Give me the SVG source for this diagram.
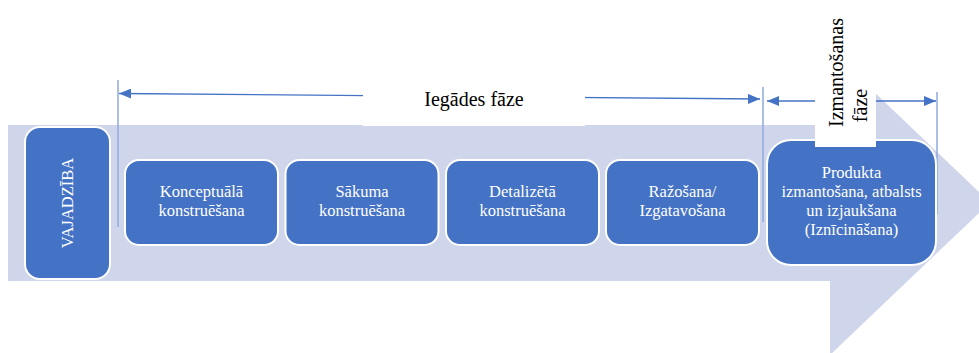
<svg xmlns="http://www.w3.org/2000/svg" width="979" height="353" viewBox="0 0 979 353">
<defs>
<style>
.node rect{fill:#4472C4;stroke:#FFFFFF;stroke-width:2}
.nt{font-family:"Liberation Serif","Times New Roman","DejaVu Serif",serif;font-size:16.5px;fill:#FFFFFF;text-anchor:middle}
.lt{font-family:"Liberation Serif","Times New Roman","DejaVu Serif",serif;font-size:20px;fill:#000000;text-anchor:middle}
.dim{stroke:#4472C4;stroke-width:1.3;fill:none}
.ext{stroke:#8FAADC;stroke-width:1.5;fill:none}
</style>
<marker id="ah" viewBox="0 0 12 10" refX="12" refY="5" markerWidth="12" markerHeight="10" markerUnits="userSpaceOnUse" orient="auto-start-reverse">
<path d="M0,0 L12,5 L0,10 Z" fill="#4472C4"/>
</marker>
</defs>
<rect width="979" height="353" fill="#FFFFFF"/>
<g id="big-arrow">
<polygon points="8,125 830,125 830,50 990,202.5 830,355 830,281 8,281" fill="#CFD5EA"/>
</g>
<g id="connectors">
<line class="ext" x1="118" y1="80" x2="118" y2="227"/>
<line class="ext" x1="763" y1="87" x2="763" y2="222"/>
<line class="ext" x1="937" y1="92" x2="937" y2="214"/>
<line class="dim" x1="760" y1="99" x2="119" y2="93.5" marker-start="url(#ah)" marker-end="url(#ah)"/>
<line class="dim" x1="767" y1="101" x2="936" y2="101" marker-start="url(#ah)" marker-end="url(#ah)"/>
</g>
<g id="n-vajadziba" class="node">
<rect x="25" y="127" width="85" height="152" rx="15"/>
<text class="nt" transform="translate(73,203) rotate(-90)">VAJADZĪBA</text>
</g>
<g id="n-konceptuala" class="node">
<rect x="125" y="160" width="153" height="85" rx="14"/>
<text class="nt" x="201.5" y="197">Konceptuālā</text>
<text class="nt" x="201.5" y="216">konstruēšana</text>
</g>
<g id="n-sakuma" class="node">
<rect x="285.5" y="160" width="153" height="85" rx="14"/>
<text class="nt" x="362" y="197">Sākuma</text>
<text class="nt" x="362" y="216">konstruēšana</text>
</g>
<g id="n-detalizeta" class="node">
<rect x="446" y="160" width="153" height="85" rx="14"/>
<text class="nt" x="522.5" y="197">Detalizētā</text>
<text class="nt" x="522.5" y="216">konstruēšana</text>
</g>
<g id="n-razosana" class="node">
<rect x="606" y="160" width="153" height="85" rx="14"/>
<text class="nt" x="682.5" y="197">Ražošana/</text>
<text class="nt" x="682.5" y="216">Izgatavošana</text>
</g>
<g id="n-produkta" class="node">
<rect x="767" y="140" width="169" height="125" rx="24"/>
<text class="nt" x="851.5" y="178">Produkta</text>
<text class="nt" x="851.5" y="197">izmantošana, atbalsts</text>
<text class="nt" x="851.5" y="216">un izjaukšana</text>
<text class="nt" x="851.5" y="235">(Iznīcināšana)</text>
</g>
<g id="label-iegades">
<rect x="363" y="72" width="222" height="54" fill="#FFFFFF"/>
<text class="lt" x="474" y="106">Iegādes fāze</text>
</g>
<g id="label-izmantosanas">
<rect x="815" y="0" width="61" height="147" fill="#FFFFFF"/>
<text class="lt" transform="translate(843,72.5) rotate(-90)">Izmantošanas</text>
<text class="lt" transform="translate(867,105.5) rotate(-90)">fāze</text>
</g>
</svg>
